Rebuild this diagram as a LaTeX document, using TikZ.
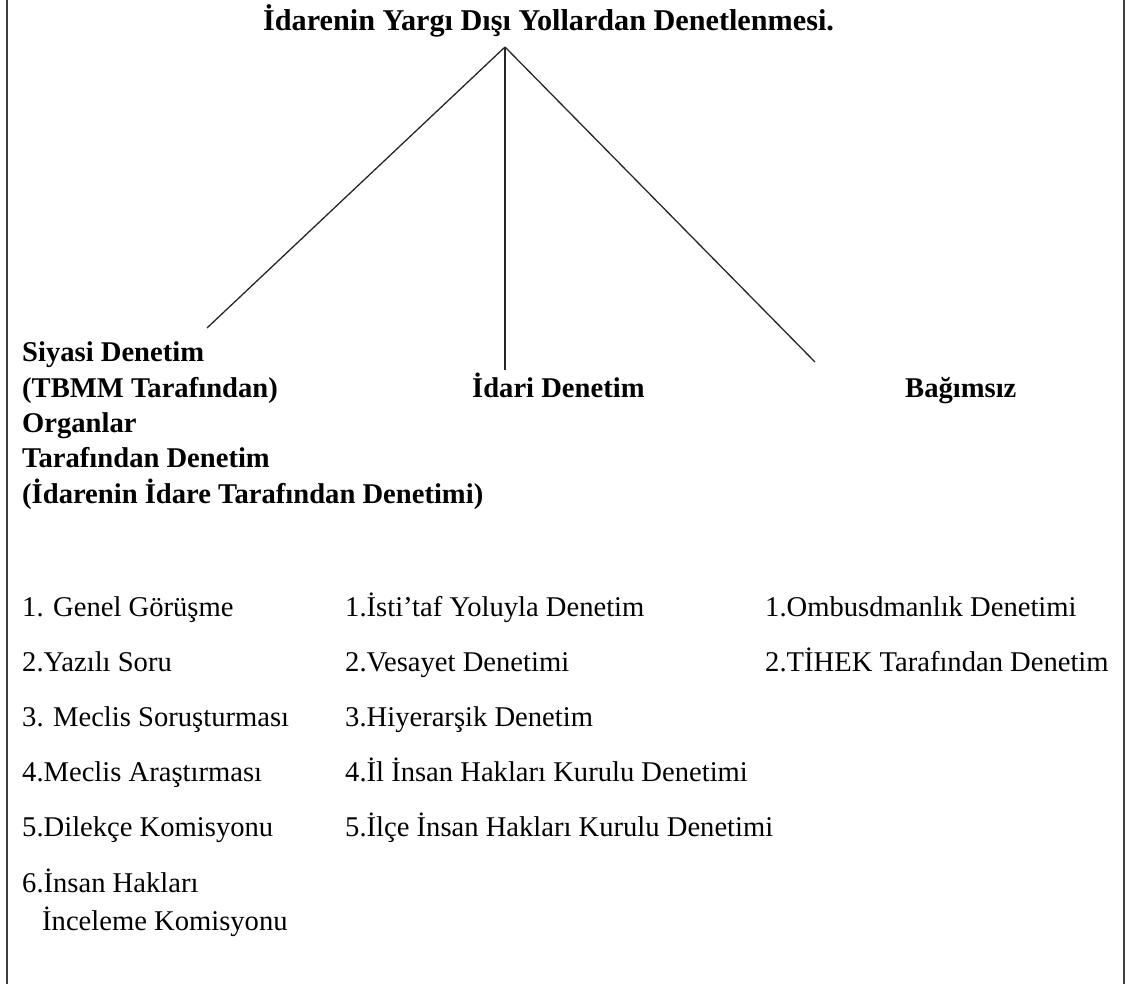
\documentclass[tikz,border=0pt]{standalone}
\usepackage{fontspec}
\setmainfont{Liberation Serif}
\begin{document}
\begin{tikzpicture}[x=1pt,y=-1pt,
  hd/.style={inner sep=0pt,anchor=base west,font=\fontsize{28.6}{35.3}\selectfont\bfseries},
  ttl/.style={inner sep=0pt,anchor=base west,font=\fontsize{30.2}{35}\selectfont\bfseries},
  item/.style={inner sep=0pt,anchor=base west,font=\fontsize{28.6}{38}\selectfont},
  conn/.style={draw=black!85,line width=1.3pt},
  frame/.style={draw=black!75,line width=1.6pt}]
\useasboundingbox (0,0) rectangle (1131,984);
% frame sides
\draw[frame] (7,0) -- (7,984);
\draw[frame] (1124,0) -- (1124,984);
% title
\node[ttl] (title) at (263,31) {İdarenin Yargı Dışı Yollardan Denetlenmesi.};
\coordinate (apex) at (505,47);
\coordinate (endL) at (207,328);
\coordinate (endM) at (505,370);
\coordinate (endR) at (815,362);
\draw[conn] (apex) -- (endL);
\draw[conn] (apex) -- (endM);
\draw[conn] (apex) -- (endR);
% headings
\node[hd,align=left] (siyasi) at (22,503) {Siyasi Denetim\\(TBMM Tarafından)\\Organlar\\Tarafından Denetim\\(İdarenin İdare Tarafından Denetimi)};
\node[hd] (idari) at (472,397) {İdari Denetim};
\node[hd] (bagimsiz) at (905,397) {Bağımsız};
% column 1
\node[item] (a1) at (22,616) {1. Genel Görüşme};
\node[item] (a2) at (22,671) {2.Yazılı Soru};
\node[item] (a3) at (22,726) {3. Meclis Soruşturması};
\node[item] (a4) at (22,781) {4.Meclis Araştırması};
\node[item] (a5) at (22,836) {5.Dilekçe Komisyonu};
\node[item] (a6) at (22,892) {6.İnsan Hakları};
\node[item] (a7) at (42,930) {İnceleme Komisyonu};
% column 2
\node[item] (b1) at (345,616) {1.İsti’taf Yoluyla Denetim};
\node[item] (b2) at (345,671) {2.Vesayet Denetimi};
\node[item] (b3) at (345,726) {3.Hiyerarşik Denetim};
\node[item] (b4) at (345,781) {4.İl İnsan Hakları Kurulu Denetimi};
\node[item] (b5) at (345,836) {5.İlçe İnsan Hakları Kurulu Denetimi};
% column 3
\node[item] (c1) at (765,616) {1.Ombusdmanlık Denetimi};
\node[item] (c2) at (765,671) {2.TİHEK Tarafından Denetim};
\end{tikzpicture}
\end{document}
